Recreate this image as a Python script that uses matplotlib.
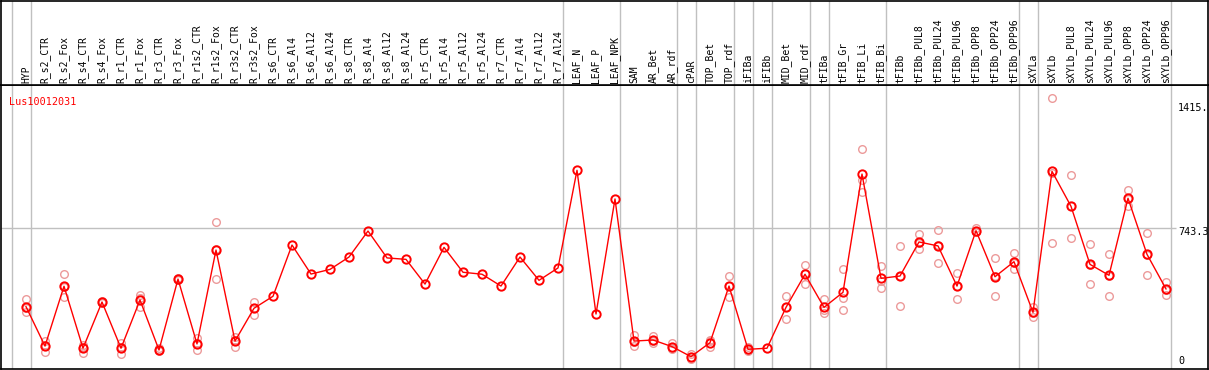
import numpy as np
import matplotlib.pyplot as plt

# sample names along the x axis
samples = ["HYP",
           "R_s2_CTR", "R_s2_Fox", "R_s4_CTR", "R_s4_Fox", "R_r1_CTR", "R_r1_Fox",
           "R_r3_CTR", "R_r3_Fox", "R_r1s2_CTR", "R_r1s2_Fox", "R_r3s2_CTR", "R_r3s2_Fox",
           "R_s6_CTR", "R_s6_Al4", "R_s6_Al12", "R_s6_Al24",
           "R_s8_CTR", "R_s8_Al4", "R_s8_Al12", "R_s8_Al24",
           "R_r5_CTR", "R_r5_Al4", "R_r5_Al12", "R_r5_Al24",
           "R_r7_CTR", "R_r7_Al4", "R_r7_Al12", "R_r7_Al24",
           "LEAF_N", "LEAF_P", "LEAF_NPK",
           "SAM", "AR_Bet", "AR_rdf", "cPAR", "TOP_Bet", "TOP_rdf",
           "iFIBa", "iFIBb", "MID_Bet", "MID_rdf",
           "tFIBa", "tFIB_Gr", "tFIB_Li", "tFIB_Bi",
           "tFIBb", "tFIBb_PUL8", "tFIBb_PUL24", "tFIBb_PUL96",
           "tFIBb_OPP8", "tFIBb_OPP24", "tFIBb_OPP96",
           "sXYLa", "sXYLb", "sXYLb_PUL8", "sXYLb_PUL24", "sXYLb_PUL96",
           "sXYLb_OPP8", "sXYLb_OPP24", "sXYLb_OPP96"]

# number of samples in each tissue group (gray separators between groups)
group_sizes = [1, 28, 3, 3, 1, 2, 1, 1, 2, 1, 3, 7, 1, 7]

# mean expression per sample
mean_expr = [306, 86, 420, 74, 332, 74, 343, 64, 460, 98, 622, 114, 297,
             364, 650, 488, 514, 583, 728, 578, 570, 432, 637, 498, 487,
             421, 583, 453, 522,
             1067, 265, 907,
             114, 120, 83, 27, 105, 421,
             68, 74, 302, 487,
             302, 386, 1046, 464,
             477, 667, 645, 421, 730, 473, 557,
             274, 1061, 866, 542, 481, 911, 598, 405]

nan = np.nan
# individual replicates (nan where none is visible)
rep_a = [347, 113, 488, 92, 340, 101, 369, 74, 465, 129, 777, 138, 334,
         nan, nan, nan, nan, nan, nan, nan, nan, nan, nan, nan, nan,
         nan, nan, nan, nan,
         nan, nan, nan,
         148, 142, 105, 42, 120, 477,
         83, nan, 365, 537,
         347, 514, 1186, 533,
         643, 712, 734, 492, 744, 578, 605,
         302, 1469, 1041, 654, 598, 955, 717, 444]
rep_b = [297, 90, 414, 81, 330, 81, 354, 56, 458, 103, 630, 121, 296,
         nan, nan, nan, nan, nan, nan, nan, nan, nan, nan, nan, nan,
         nan, nan, nan, nan,
         nan, nan, nan,
         108, 113, 76, 27, 112, 424,
         63, nan, 302, 492,
         287, 354, 1013, 449,
         478, 663, 652, 423, 722, 475, 552,
         270, 1053, 870, 541, 479, 909, 594, 400]
rep_c = [278, 55, 358, 49, 326, 40, 306, 64, 457, 62, 459, 83, 261,
         nan, nan, nan, nan, nan, nan, nan, nan, nan, nan, nan, nan,
         nan, nan, nan, nan,
         nan, nan, nan,
         86, 105, 68, 12, 83, 362,
         58, nan, 239, 432,
         272, 286, 944, 408,
         310, 626, 548, 349, 724, 367, 514,
         250, 661, 687, 431, 366, 869, 483, 371]

gene = "Lus10012031"
ref_value = 743.3
top_label = "1415."

W, H = 1209, 370
fig = plt.figure(figsize=(W / 100, H / 100), dpi=100)
plt.rcParams['font.family'] = ['DejaVu Sans Mono']

x = np.arange(len(samples))
# x limits so that sample i sits at 26 + 19*i px, axes spanning px 1..1208
xlim = ((1 - 26) / 19, (1208 - 26) / 19)

ax = fig.add_axes([1 / W, 1 / H, 1207 / W, 284 / H])
hd = fig.add_axes([1 / W, 285 / H, 1207 / W, 84.5 / H], sharex=ax)

ax.set_xlim(*xlim)
ax.set_ylim(-41.9, 1543)
hd.set_ylim(0, 1)

for a in (ax, hd):
    a.set_xticks([])
    a.set_yticks([])
    for s in a.spines.values():
        s.set_color("black")
        s.set_linewidth(1.2)

# group separators
bounds = np.concatenate([[0], np.cumsum(group_sizes)]) - 1 + 0.24
for b in bounds:
    ax.axvline(b, color="#c0c0c0", lw=1.0, zorder=1)
    hd.axvline(b, color="#c0c0c0", lw=1.0, zorder=1)

ax.hlines(ref_value, xlim[0], (1176 - 26) / 19, color="#c0c0c0", lw=1.0, zorder=1)

# replicates
for reps in (rep_a, rep_b, rep_c):
    ax.plot(x, reps, linestyle="none", marker="o", markersize=5.5,
            markerfacecolor="none", markeredgecolor="#ec9a9a",
            markeredgewidth=1.0, zorder=2)

# means
ax.plot(x, mean_expr, color="#ff0000", lw=1.0, marker="o", markersize=6,
        markerfacecolor="none", markeredgecolor="#ff0000",
        markeredgewidth=1.4, zorder=3)

# sample labels in the header
for i, name in enumerate(samples):
    hd.text(i, 0.025, name, rotation=90, ha="center", va="bottom",
            fontsize=7, color="black")

ax.text((9 - 26) / 19, 1450, gene, color="#ff0000", fontsize=7.3,
        ha="left", va="center")

tx = (1178 - 26) / 19
ax.text(tx, 1415, top_label, fontsize=7.3, ha="left", va="center")
ax.text(tx, ref_value - 22, f"{ref_value}", fontsize=7.3, ha="left", va="center")
ax.text(tx, 0, "0", fontsize=7.3, ha="left", va="center")

fig.savefig("out.png", dpi=100)
